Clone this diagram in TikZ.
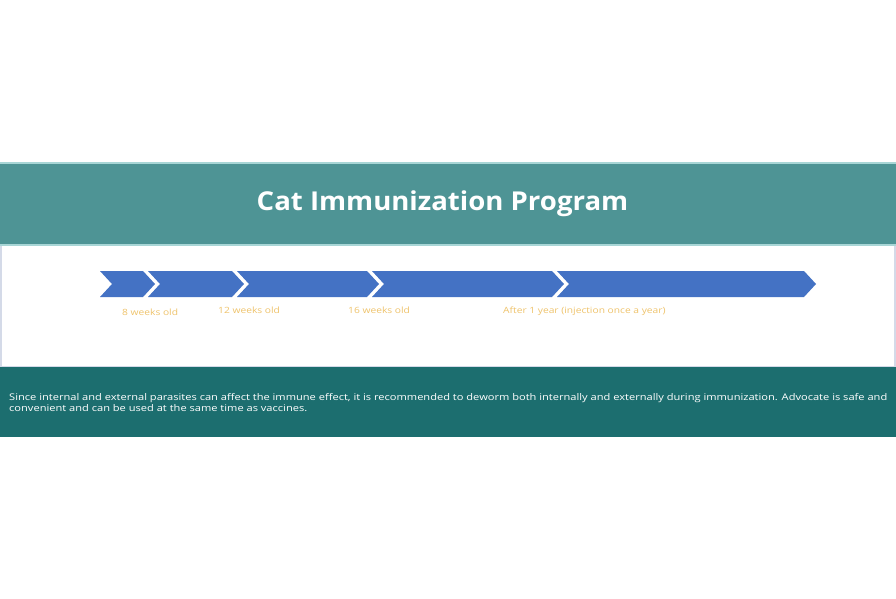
\documentclass[tikz,border=0pt]{standalone}
\usepackage{fontspec}
\setmainfont{Open Sans}
\newfontfamily\widefont[FakeStretch=1.19]{Open Sans}
\newfontfamily\notefont[FakeStretch=1.205]{Open Sans}
\newfontfamily\titlefont[FakeStretch=1.06]{Open Sans}
\definecolor{topband}{HTML}{4E9495}
\definecolor{botband}{HTML}{1C6E6F}
\definecolor{chev}{HTML}{4472C4}
\definecolor{lbl}{HTML}{EFC36B}
\definecolor{edge}{HTML}{A8D6D6}
\definecolor{frame}{HTML}{D4DAE8}
\tikzset{
  chevron/.style={fill=chev, draw=none},
  lbltext/.style={text=lbl, font=\widefont\fontsize{8.6}{10}\selectfont, inner sep=0pt},
}
\newcommand{\chevshape}[3]{% left, tip, name
  \fill[chevron] (#1,271) -- (#2-12,271) -- (#2,284) -- (#2-12,297) -- (#1,297) -- (#1+12,284) -- cycle;
  \coordinate (#3) at ({(#1+#2)/2},284);
}
\begin{document}
\begin{tikzpicture}[x=1pt,y=-1pt]
\useasboundingbox (0,0) rectangle (896,599);
\fill[white] (0,0) rectangle (896,599);
% top band
\fill[topband] (0,162) rectangle (896,245);
\fill[edge] (0,162) rectangle (896,163.5);
\fill[edge] (0,243.5) rectangle (896,245.5);
% white frame
\fill[frame] (0,245.5) rectangle (2,366);
\fill[frame] (894,245.5) rectangle (896,366);
% bottom band
\fill[botband] (0,366) rectangle (896,437);
\fill[frame] (0,365.5) rectangle (896,367);
\node[text=white, font=\titlefont\fontsize{26}{30}\selectfont\bfseries, inner sep=0pt] (title) at (442.5,203.5) {Cat Immunization Program};
% chevrons
\chevshape{100}{155}{c1}
\chevshape{148}{244}{c2}
\chevshape{237}{379}{c3}
\chevshape{372}{564}{c4}
\chevshape{557}{816}{c5}
% labels
\node[lbltext, anchor=west] (l1) at (122,312) {8 weeks old};
\node[lbltext, anchor=west] (l2) at (218,310) {12 weeks old};
\node[lbltext, anchor=west] (l3) at (348,310) {16 weeks old};
\node[lbltext, anchor=west] (l4) at (503,311) {After 1 year (injection once a year)};
% bottom text
\node[text=white, font=\notefont\fontsize{9.2}{11}\selectfont, inner sep=0pt, anchor=north west, align=left] (note) at (9,393.5)
{Since internal and external parasites can affect the immune effect, it is recommended to deworm both internally and externally during immunization. Advocate is safe and\\convenient and can be used at the same time as vaccines.};
\end{tikzpicture}
\end{document}
